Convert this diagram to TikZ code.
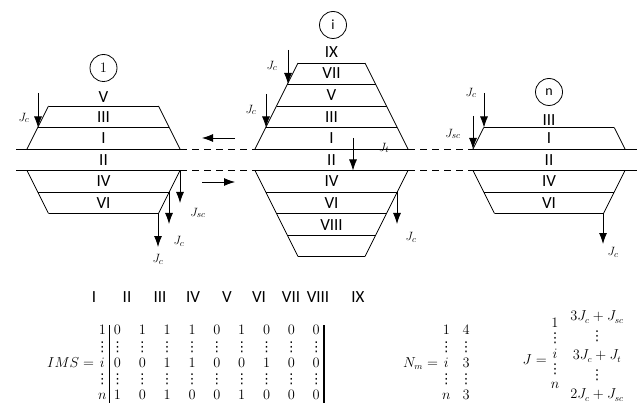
\documentclass[tikz,border=0pt]{standalone}
\usepackage{fontspec}
\setmainfont{Carlito}
\newfontfamily\dejavu{DejaVu Sans}
\usetikzlibrary{arrows.meta}

\newcommand{\vdt}{\hbox to 0pt{\hss\dejavu ⋮\hss}}

\tikzstyle{wall}=[line width=0.8pt]
\tikzstyle{gap}=[dash pattern=on 7pt off 5pt]
\tikzstyle{cell}=[circle,draw,line width=0.8pt,minimum size=27pt,inner sep=0pt,font=\fontsize{14}{16}\selectfont]
\tikzstyle{rom}=[inner sep=0pt,font=\fontsize{17}{19}\selectfont]
\tikzstyle{jlab}=[inner sep=0pt,font=\fontsize{13}{15}\selectfont]
\tikzstyle{flux}=[line width=0.8pt,-{Latex[length=11pt,width=8pt]}]
\tikzstyle{mat}=[inner sep=0pt,font=\fontsize{13.5}{16.25}\selectfont]
\tikzstyle{bar}=[line width=1.3pt,shorten <=2pt,shorten >=2pt]

\begin{document}
\begin{tikzpicture}[x=1pt,y=-1pt]
  \useasboundingbox (0,0) rectangle (637,406);
  \def\h{21.5}
  \def\s{10.75}

  % the two long lines
  \foreach \y in {149,170.5}{
    \draw[wall] (16,\y) -- (180,\y);
    \draw[wall,gap] (180,\y) -- (255,\y);
    \draw[wall] (255,\y) -- (408,\y);
    \draw[wall,gap] (408,\y) -- (473,\y);
    \draw[wall] (473,\y) -- (637,\y);
  }

  % stacks 1, i, n
  \foreach \cx/\w/\nu/\nl in {103.5/76.5/2/2, 331.5/76.5/4/4, 549/76/1/2}{
    \foreach \k in {1,...,\nu}
      \draw[wall] (\cx-\w+\k*\s,149-\k*\h) -- (\cx+\w-\k*\s,149-\k*\h);
    \foreach \k in {1,...,\nl}
      \draw[wall] (\cx-\w+\k*\s,170.5+\k*\h) -- (\cx+\w-\k*\s,170.5+\k*\h);
    \draw[wall] (\cx-\w,149) -- (\cx-\w+\nu*\s,149-\nu*\h);
    \draw[wall] (\cx+\w,149) -- (\cx+\w-\nu*\s,149-\nu*\h);
    \draw[wall] (\cx-\w,170.5) -- (\cx-\w+\nl*\s,170.5+\nl*\h);
    \draw[wall] (\cx+\w,170.5) -- (\cx+\w-\nl*\s,170.5+\nl*\h);
  }

  \node[cell] (c1) at (103.5,68) {$1$};
  \node[cell] (ci) at (333,25) {$\mathrm{i}$};
  \node[cell] (cn) at (549,92) {$\mathrm{n}$};

  % layer names
  \foreach \t/\y in {V/97,III/117,I/138,II/160,IV/181,VI/203}
    \node[rom] (l\t) at (103.5,\y) {\t};
  \foreach \t/\y in {IX/52,VII/73,V/95,III/117,I/138,II/160,IV/181,VI/203,VIII/225}
    \node[rom] (m\t) at (331.5,\y) {\t};
  \foreach \t/\y in {III/120,I/138,II/160,IV/181,VI/203}
    \node[rom] (r\t) at (549,\y) {\t};

  % fluxes
  \foreach \x/\ya/\yb/\lx/\ly/\t [count=\i] in {38/93/127.5/24/118/J_c,
      180/170.5/203/198/213/J_{sc}, 169/192/224/179/241/J_c, 158/213.5/247/158/259/J_c,
      288/50/84/272/66/J_c, 266/94/127.5/251/110/J_c, 353/138/170.5/384/148/J_t,
      397/192/224/411/237/J_c, 484/93/127.5/471/93/J_c, 473/116/149/453/134/J_{sc},
      603/214/244/613/252/J_c}{
    \coordinate (a\i) at (\x,\ya);
    \coordinate (b\i) at (\x,\yb);
    \draw[flux] (a\i) -- (b\i);
    \node[jlab] (j\i) at (\lx,\ly) {$\t$};
  }
  \coordinate (w1) at (235,138);
  \coordinate (w2) at (202,138);
  \coordinate (e1) at (202,182);
  \coordinate (e2) at (235,182);
  \draw[flux] (w1) -- (w2);
  \draw[flux] (e1) -- (e2);

  % matrices
  \foreach \t/\x in {I/94,II/127,III/160,IV/193,V/227,VI/259,VII/291,VIII/318,IX/358}
    \node[rom] (h\t) at (\x,297) {\t};
  \node[mat,anchor=west] (imsl) at (47,364) {$IMS = \begin{array}{@{}c@{}}1\\ \vdt\\ i\\ \vdt\\ n\end{array}$};
  \node[mat,anchor=west,inner xsep=4pt] (imsb) at ([xshift=3pt]imsl.east) {$\setlength{\arraycolsep}{8.9pt}\begin{array}{@{}*{9}{c}@{}}
    0&1&1&1&0&1&0&0&0\\
    \vdt&\vdt&\vdt&\vdt&\vdt&\vdt&\vdt&\vdt&\vdt\\
    0&0&1&1&0&0&1&0&0\\
    \vdt&\vdt&\vdt&\vdt&\vdt&\vdt&\vdt&\vdt&\vdt\\
    1&0&1&0&0&1&0&0&0
    \end{array}$};
  \draw[bar] (imsb.north west) -- (imsb.south west);
  \draw[bar] (imsb.north east) -- (imsb.south east);
  \node[mat,anchor=west] (nm) at (403,364) {$\setlength{\arraycolsep}{6pt}N_m = \begin{array}{@{}cc@{}}1&4\\ \vdt&\vdt\\ i&3\\ \vdt&\vdt\\ n&3\end{array}$};
  \node[mat,anchor=east] (jeq) at (547,360) {$J =$};
  \node[mat] (jrow) at (555,355) {$\renewcommand{\arraystretch}{0.95}\begin{array}{@{}c@{}}1\\ \vdt\\ i\\ \vdt\\ n\end{array}$};
  \node[mat] (jval) at (597,356) {$\renewcommand{\arraystretch}{1.2}\begin{array}{@{}c@{}}3J_c+J_{sc}\\ \vdt\\ 3J_c+J_t\\ \vdt\\ 2J_c+J_{sc}\end{array}$};
\end{tikzpicture}
\end{document}
